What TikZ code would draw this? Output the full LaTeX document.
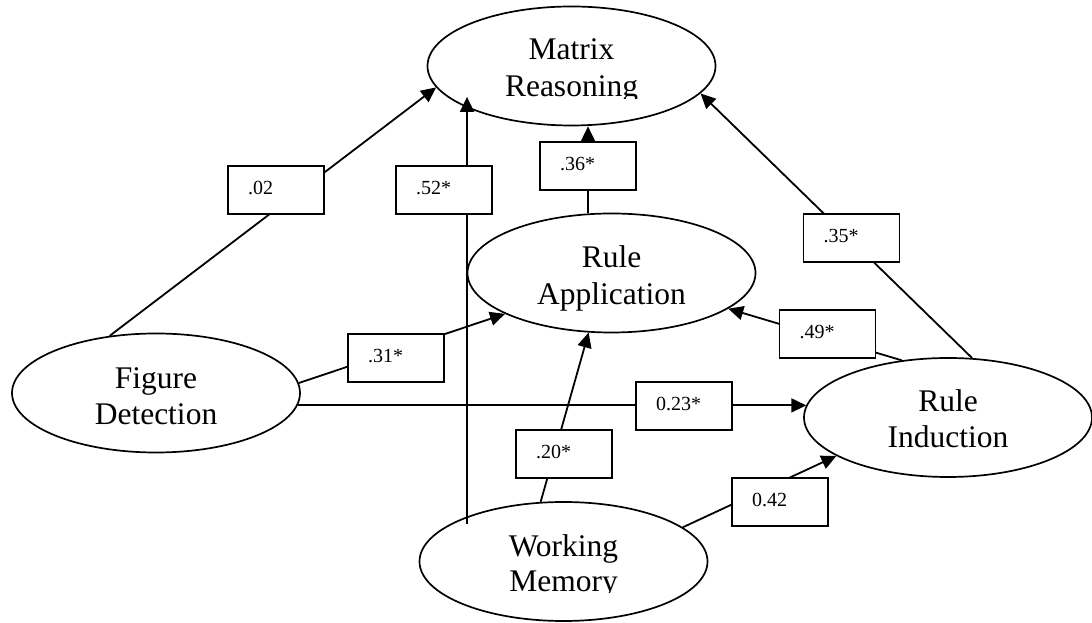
\documentclass[tikz,border=0pt]{standalone}
\usepackage{fontspec}
\setmainfont{Liberation Serif}
\usetikzlibrary{shapes.geometric,arrows.meta}
\pgfdeclarelayer{bg}
\pgfsetlayers{bg,main}
\begin{document}
\begin{tikzpicture}[x=1pt,y=1pt,
  latent/.style={ellipse, draw, line width=1.7pt, minimum width=288pt,
    minimum height=119pt, inner sep=0pt},
  lbl/.style={anchor=base, inner sep=0pt, font=\fontsize{31.5}{36}\selectfont},
  coef/.style={draw, fill=white, line width=1.9pt, minimum width=96pt,
    minimum height=48pt, inner xsep=20pt, inner ysep=2pt, text width=56pt,
    align=left, text height=14pt, text depth=4pt,
    font=\fontsize{20}{22}\selectfont},
  effect/.style={line width=1.8pt, -{Triangle[length=15pt,width=14pt]}}]
\useasboundingbox (0,0) rectangle (1092,623);

% latent variables
\node[latent] (MR) at (571.5,557) {};
\node[latent] (RA) at (611.5,350) {};
\node[latent] (FD) at (156,230) {};
\node[latent] (RI) at (948,205.5) {};
\node[latent] (WM) at (563.5,61.5) {};

% labels (the top and bottom ones are cut off by their text frames)
\begin{scope}
  \clip (0,524) rectangle (1092,623);
  \node[lbl] (MRa) at (571.5,563) {Matrix};
  \node[lbl] (MRb) at (571.5,526) {Reasoning};
\end{scope}
\node[lbl] (RAa) at (611.5,355) {Rule};
\node[lbl] (RAb) at (611.5,318) {Application};
\node[lbl] (FDa) at (156,234) {Figure};
\node[lbl] (FDb) at (156,198) {Detection};
\node[lbl] (RIa) at (948,211) {Rule};
\node[lbl] (RIb) at (948,175) {Induction};
\begin{scope}
  \clip (0,30) rectangle (1092,623);
  \node[lbl] (WMa) at (563.5,66) {Working};
  \node[lbl] (WMb) at (563.5,31) {Memory};
\end{scope}

% path coefficients
\node[coef] (b02) at (276,433) {.02};
\node[coef] (b52) at (444,433) {.52*};
\node[coef] (b36) at (588,457) {.36*};
\node[coef] (b35) at (851.5,385) {.35*};
\node[coef] (b31) at (396,265) {.31*};
\node[coef] (b49) at (827.5,289) {.49*};
\node[coef] (b23) at (684,217) {0.23*};
\node[coef] (b20) at (564,169) {.20*};
\node[coef] (b42) at (780,121) {0.42};

% structural paths, drawn beneath the coefficient boxes
\begin{pgfonlayer}{bg}
  \draw[effect] (FD.129.7) -- (MR.189);
  \draw[effect, shorten <=-8pt, shorten >=-10pt] (WM.155) -- (WM.155 |- MR.201);
  \draw[effect] (b36 |- RA.north) -- (b36 |- MR.south);
  \draw[effect] (RI.68) -- (MR.348);
  \draw[effect] (RI.129) -- (RA.343);
  \draw[effect] (FD.4) -- (RA.201.6);
  \draw[effect] (FD.-5) -- (FD.-5 -| RI.175);
  \draw[effect] (WM.111.5) -- (RA.249);
  \draw[effect] (WM.16.5) -- (RI.199.7);
\end{pgfonlayer}
\end{tikzpicture}
\end{document}
